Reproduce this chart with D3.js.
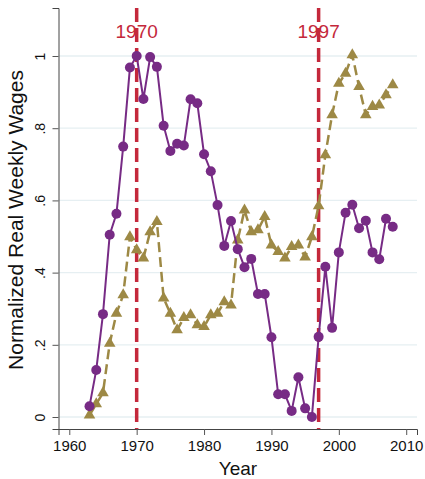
<!DOCTYPE html>
<html>
<head>
<meta charset="utf-8">
<script src="https://cdn.jsdelivr.net/npm/d3@7"></script>
<style>
  html, body { margin: 0; padding: 0; background: #fff; }
  svg { display: block; font-family: "Liberation Sans", Arial, Helvetica, sans-serif; }
</style>
</head>
<body>
<svg id="chart" width="425" height="479"></svg>
<script>
// Years covered by both series
const years = d3.range(1963, 2009);

// Solid purple series (circles)
const wagesA = [0.03, 0.13, 0.285, 0.505, 0.563, 0.749, 0.968, 1.0, 0.881, 0.997,
  0.97, 0.807, 0.737, 0.757, 0.752, 0.88, 0.869, 0.728, 0.681, 0.587,
  0.474, 0.543, 0.465, 0.415, 0.438, 0.341, 0.341, 0.221, 0.063, 0.063,
  0.017, 0.11, 0.024, 0.0, 0.222, 0.416, 0.247, 0.456, 0.566, 0.588,
  0.523, 0.544, 0.456, 0.437, 0.549, 0.527];

// Dashed gold series (triangles)
const wagesB = [0.005, 0.036, 0.067, 0.204, 0.287, 0.338, 0.499, 0.463, 0.44, 0.513,
  0.541, 0.329, 0.287, 0.241, 0.275, 0.283, 0.255, 0.25, 0.283, 0.287,
  0.319, 0.31, 0.49, 0.573, 0.513, 0.518, 0.555, 0.476, 0.458, 0.44,
  0.472, 0.476, 0.443, 0.499, 0.585, 0.726, 0.837, 0.924, 0.952, 1.003,
  0.915, 0.837, 0.86, 0.864, 0.892, 0.92];

// Marked reference years
const markerYears = [1970, 1997];

// Axis ticks
const xTicks = [1960, 1970, 1980, 1990, 2000, 2010];
const yTicks = [0, 0.2, 0.4, 0.6, 0.8, 1];
const yTickLabels = ["0", ".2", ".4", ".6", ".8", "1"];

const svg = d3.select("#chart");

const x = d3.scaleLinear().domain([1958.4, 2011.6]).range([58.5, 417]);
const y = d3.scaleLinear().domain([-0.0332, 1.133]).range([429, 8]);

const purple = "#772b85";
const gold = "#9d8945";
const red = "#c4283b";

// Horizontal gridlines
svg.append("g")
  .selectAll("line")
  .data(yTicks)
  .join("line")
  .attr("x1", x.range()[0]).attr("x2", x.range()[1])
  .attr("y1", d => y(d)).attr("y2", d => y(d))
  .attr("stroke", "#e6eff2")
  .attr("stroke-width", 1.3);

// Vertical reference lines
svg.append("g")
  .selectAll("line")
  .data(markerYears)
  .join("line")
  .attr("x1", d => x(d)).attr("x2", d => x(d))
  .attr("y1", y.range()[1]).attr("y2", y.range()[0])
  .attr("stroke", red)
  .attr("stroke-width", 3.5)
  .attr("stroke-dasharray", "14,6");

svg.append("g")
  .selectAll("text")
  .data(markerYears)
  .join("text")
  .attr("x", d => x(d))
  .attr("y", 38)
  .attr("text-anchor", "middle")
  .attr("font-size", 19)
  .attr("fill", red)
  .text(d => d);

// Gold dashed series
const seriesB = years.map((yr, i) => [yr, wagesB[i]]);
svg.append("path")
  .datum(seriesB)
  .attr("fill", "none")
  .attr("stroke", gold)
  .attr("stroke-width", 2.5)
  .attr("stroke-dasharray", "10,5")
  .attr("d", d3.line().x(d => x(d[0])).y(d => y(d[1])));

svg.append("g")
  .selectAll("path")
  .data(seriesB)
  .join("path")
  .attr("transform", d => `translate(${x(d[0])},${y(d[1])})`)
  .attr("d", d3.symbol(d3.symbolTriangle, 58))
  .attr("fill", gold);

// Purple solid series
const seriesA = years.map((yr, i) => [yr, wagesA[i]]);
svg.append("path")
  .datum(seriesA)
  .attr("fill", "none")
  .attr("stroke", purple)
  .attr("stroke-width", 2)
  .attr("d", d3.line().x(d => x(d[0])).y(d => y(d[1])));

svg.append("g")
  .selectAll("circle")
  .data(seriesA)
  .join("circle")
  .attr("cx", d => x(d[0]))
  .attr("cy", d => y(d[1]))
  .attr("r", 5)
  .attr("fill", purple);

// X axis
const xAxis = svg.append("g")
  .attr("transform", `translate(0,${y.range()[0]})`)
  .call(d3.axisBottom(x).tickValues(xTicks).tickFormat(d3.format("d")).tickSizeOuter(0).tickSize(6).tickPadding(5));
xAxis.select(".domain").attr("stroke", "#444");
xAxis.selectAll(".tick line").attr("stroke", "#555");
xAxis.selectAll(".tick text").attr("font-size", 15).attr("fill", "#111")
  .attr("font-family", "'Liberation Sans', Arial, sans-serif");

// Y axis with vertical tick labels
const yAxis = svg.append("g")
  .attr("transform", `translate(${x.range()[0]},0)`)
  .call(d3.axisLeft(y).tickValues(yTicks).tickFormat((d, i) => yTickLabels[i]).tickSizeOuter(0).tickSize(6));
yAxis.select(".domain").attr("stroke", "#444");
yAxis.selectAll(".tick line").attr("stroke", "#555");
yAxis.selectAll(".tick text")
  .attr("font-size", 14)
  .attr("fill", "#111")
  .attr("font-family", "'Liberation Sans', Arial, sans-serif")
  .attr("x", null).attr("dy", null)
  .attr("text-anchor", "middle")
  .attr("transform", "translate(-14,0) rotate(-90)");

// Axis titles
svg.append("text")
  .attr("x", 238)
  .attr("y", 475)
  .attr("text-anchor", "middle")
  .attr("font-size", 19)
  .attr("fill", "#111")
  .text("Year");

svg.append("text")
  .attr("transform", "translate(23,220) rotate(-90)")
  .attr("text-anchor", "middle")
  .attr("font-size", 21)
  .attr("fill", "#111")
  .text("Normalized Real Weekly Wages");
</script>
</body>
</html>
